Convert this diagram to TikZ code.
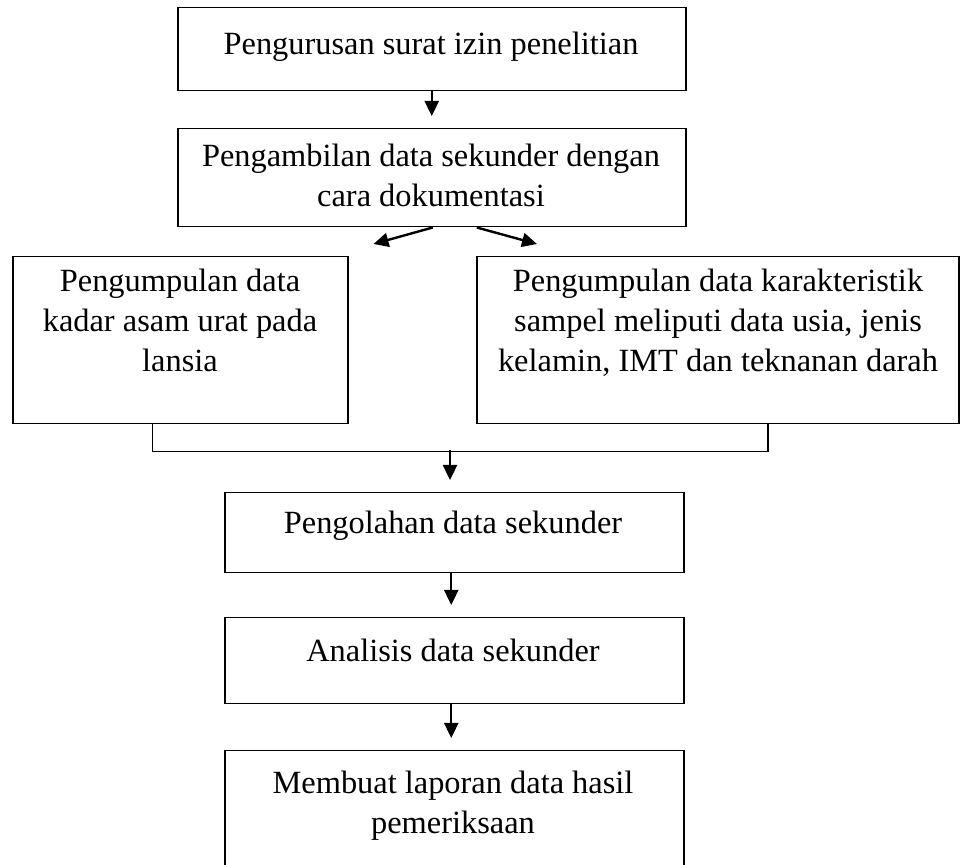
\documentclass[tikz,border=0pt]{standalone}
\usepackage{fontspec}
\setmainfont{Liberation Serif}
\usetikzlibrary{arrows.meta, calc}

\begin{document}
\begin{tikzpicture}[x=0.5pt, y=-0.5pt, >={Triangle[length=7.5pt, width=7pt]},
  kotak/.style={draw, line width=0.75pt, anchor=north west, inner sep=0pt},
  teks/.style={align=center, anchor=base, inner sep=0pt, font=\fontsize{16.2}{20}\selectfont},
  panah/.style={->, line width=1.2pt, shorten >=6pt}]
  \useasboundingbox (0,0) rectangle (960,865);
  \clip (0,0) rectangle (960,865);

  % Kotak
  \node[kotak, minimum width=254pt, minimum height=41.5pt] (b1) at (177,7) {};
  \node[kotak, minimum width=254pt, minimum height=49pt] (b2) at (177,128) {};
  \node[kotak, minimum width=167.5pt, minimum height=83.5pt] (b3) at (12,256) {};
  \node[kotak, minimum width=241pt, minimum height=83.5pt] (b4) at (476,256) {};
  \node[kotak, minimum width=229.5pt, minimum height=40pt] (b5) at (224,492) {};
  \node[kotak, minimum width=229.5pt, minimum height=43pt] (b6) at (224,617) {};
  \node[kotak, minimum width=229.5pt, minimum height=72pt] (b7) at (224,750) {};

  % Teks (base = garis dasar baris terakhir)
  \node[teks] (t1) at (431,55) {Pengurusan surat izin penelitian};
  \node[teks] (t2) at (431,207) {Pengambilan data sekunder dengan\\cara dokumentasi};
  \node[teks] (t3) at (180,372) {Pengumpulan data\\kadar asam urat pada\\lansia};
  \node[teks] (t4) at (718,372) {Pengumpulan data karakteristik\\sampel meliputi data usia, jenis\\kelamin, IMT dan teknanan darah};
  \node[teks] (t5) at (453,534) {Pengolahan data sekunder};
  \node[teks] (t6) at (453,662) {Analisis data sekunder};
  \node[teks] (t7) at (453,834) {Membuat laporan data hasil\\pemeriksaan};

  % Panah
  \draw[panah] (b1.south) -- (b2.north);
  \draw[panah, shorten >=0pt] ($(b2.south)+(1,0)$) -- ($(b3.north east)+(25,-12)$);
  \draw[panah, shorten >=0pt] ($(b2.south)+(45,0)$) -- ($(b4.north west)+(61,-12)$);

  % Garis gabung
  \coordinate (k3) at ($(b3.south west)!.418!(b3.south east)$);
  \coordinate (k4) at ($(b4.south west)!.604!(b4.south east)$);
  \draw[line width=0.75pt] (k3) -- ++(0,27) -| (k4);
  \coordinate (gabung) at (450,450);
  \draw[panah] (gabung) -- (gabung |- b5.north);
  \draw[panah] ($(b5.south)+(-3,0)$) -- ($(b6.north)+(-3,0)$);
  \draw[panah] ($(b6.south)+(-3,0)$) -- ($(b7.north)+(-3,0)$);
\end{tikzpicture}
\end{document}
